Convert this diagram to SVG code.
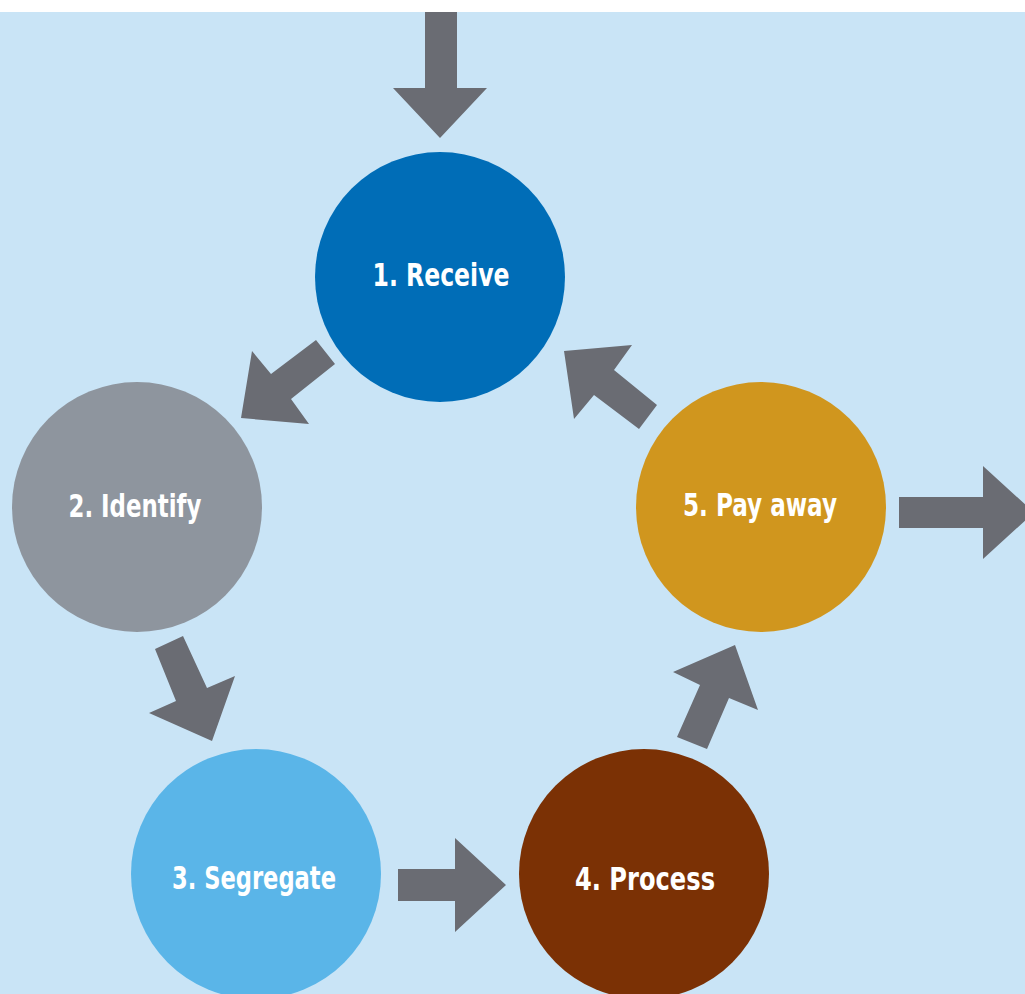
<svg xmlns="http://www.w3.org/2000/svg" width="1025" height="994" viewBox="0 0 1025 994">
<style>
.lbl{font-family:"Liberation Sans Narrow","DejaVu Sans Condensed","Liberation Sans",sans-serif;font-weight:bold;font-size:32px;fill:#ffffff;text-anchor:middle}
.arr{fill:#6A6C73}
</style>
<rect x="0" y="0" width="1025" height="994" fill="#ffffff"/>
<rect x="0" y="12" width="1025" height="982" fill="#C9E4F6"/>
<g id="connectors">
<polygon class="arr" points="425,12 457,12 457,88 487,88 440,138 393,88 425,88"/>
<polygon class="arr" points="316,340 335,364 291,399 309,424 241,418 252,351 271,374"/>
<polygon class="arr" points="155,649 183,636 207,688 235,676 212,741 149,713 176,701"/>
<polygon class="arr" points="398,869 455,869 455,838 506,885 455,932 455,901 398,901"/>
<polygon class="arr" points="677,737 707,749 729,698 758,710 735,645 673,672 700,685"/>
<polygon class="arr" points="657,405 639,429 594,395 574,419 564,351 632,345 614,370"/>
<polygon class="arr" points="899,497 983,497 983,466 1034,512.5 983,559 983,528 899,528"/>
</g>
<g id="node1">
<circle cx="440" cy="277" r="125" fill="#006DB7"/>
<text class="lbl" x="441" y="286" textLength="137" lengthAdjust="spacingAndGlyphs">1. Receive</text>
</g>
<g id="node2">
<circle cx="137" cy="507" r="125" fill="#8E959E"/>
<text class="lbl" x="135" y="517" textLength="133" lengthAdjust="spacingAndGlyphs">2. Identify</text>
</g>
<g id="node3">
<circle cx="256" cy="874" r="125" fill="#5AB5E8"/>
<text class="lbl" x="254" y="889" textLength="164" lengthAdjust="spacingAndGlyphs">3. Segregate</text>
</g>
<g id="node4">
<circle cx="644" cy="874" r="125" fill="#7B3105"/>
<text class="lbl" x="645" y="890" textLength="140" lengthAdjust="spacingAndGlyphs">4. Process</text>
</g>
<g id="node5">
<circle cx="761" cy="507" r="125" fill="#D0961E"/>
<text class="lbl" x="760" y="516" textLength="154" lengthAdjust="spacingAndGlyphs">5. Pay away</text>
</g>
</svg>
